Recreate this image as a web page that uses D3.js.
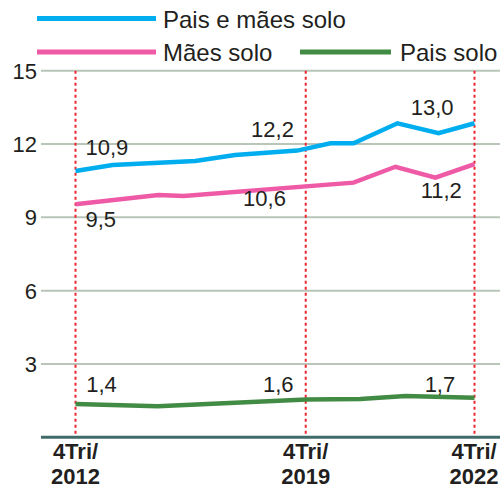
<!DOCTYPE html>
<html><head><meta charset="utf-8">
<script src="https://cdn.jsdelivr.net/npm/d3@7"></script>
<style>
html,body{margin:0;padding:0;background:#fff;}
svg{display:block;font-family:"Liberation Sans",Arial,sans-serif;}
</style></head>
<body><svg id="c" width="500" height="489"></svg>
<script>
// Data (x in period units along the drawn axis: 0 = 4Tri/2012, 10 = 4Tri/2022)
const seriesNames = ["Pais e mães solo", "Mães solo", "Pais solo"];
const seriesColors = ["#00aeef", "#ef5aa6", "#428b44"];
const paisMaesX = [0, 0.93, 3.0, 4.0, 5.56, 6.39, 6.97, 8.07, 9.1, 10];
const paisMaesY = [10.9, 11.14, 11.31, 11.55, 11.73, 12.03, 12.03, 12.85, 12.44, 12.85];
const maesX = [0, 2.08, 2.71, 6.97, 8.02, 9.02, 10];
const maesY = [9.54, 9.91, 9.87, 10.42, 11.07, 10.62, 11.18];
const paisX = [0, 2.06, 5.79, 7.14, 8.27, 10];
const paisY = [1.36, 1.27, 1.55, 1.57, 1.69, 1.62];
const periodLabels = [["4Tri/", "2012"], ["4Tri/", "2019"], ["4Tri/", "2022"]];
const periodX = [0, 5.77, 10];
const yTicks = [3, 6, 9, 12, 15];
// value labels: text, x-unit, value anchor
const labelTexts = ["10,9", "12,2", "13,0", "9,5", "10,6", "11,2", "1,4", "1,6", "1,7"];
const labelX = [0.25, 4.4, 8.4, 0.25, 4.2, 8.65, 0.27, 4.7, 8.75];
const labelV = [11.55, 12.3, 13.2, 8.6, 9.45, 9.8, 1.85, 1.85, 1.85];

const svg = d3.select("#c");
const x = d3.scaleLinear().domain([0, 10]).range([75.5, 474.5]);
const y = d3.scaleLinear().domain([0, 15]).range([437.3, 70.7]);
const textColor = "#231f20";

// gridlines
svg.append("g").selectAll("line").data(yTicks).join("line")
  .attr("x1", 41).attr("x2", 500)
  .attr("y1", d => y(d)).attr("y2", d => y(d))
  .attr("stroke", "#b9c5b9").attr("stroke-width", 2);

// y tick labels
svg.append("g").selectAll("text").data(yTicks).join("text")
  .attr("x", 37).attr("y", d => y(d) + 8)
  .attr("text-anchor", "end").attr("font-size", 22).attr("fill", textColor)
  .text(d => d);

// vertical red dotted markers
svg.append("g").selectAll("line").data(periodX).join("line")
  .attr("x1", d => x(d)).attr("x2", d => x(d))
  .attr("y1", y(15)).attr("y2", y(0))
  .attr("stroke", "#ee2530").attr("stroke-width", 2)
  .attr("stroke-dasharray", "3,3");

// axis baseline
svg.append("line").attr("x1", 41).attr("x2", 500)
  .attr("y1", y(0)).attr("y2", y(0))
  .attr("stroke", "#3f6b69").attr("stroke-width", 3);

// x labels
const xl = svg.append("g").selectAll("text").data(periodLabels).join("text")
  .attr("text-anchor", "middle").attr("font-size", 22).attr("font-weight", "bold")
  .attr("fill", textColor)
  .attr("transform", (d, i) => `translate(${Math.min(x(periodX[i]), 474)},0)`);
xl.append("tspan").attr("x", 0).attr("y", 459).text(d => d[0]);
xl.append("tspan").attr("x", 0).attr("y", 484).text(d => d[1]);

// lines
const line = d3.line().x(d => x(d[0])).y(d => y(d[1]));
const data = [
  d3.zip(paisMaesX, paisMaesY),
  d3.zip(maesX, maesY),
  d3.zip(paisX, paisY)
];
svg.append("g").selectAll("path").data(data).join("path")
  .attr("d", line).attr("fill", "none")
  .attr("stroke", (d, i) => seriesColors[i])
  .attr("stroke-width", 4.5).attr("stroke-linejoin", "miter");

// value labels
svg.append("g").selectAll("text").data(labelTexts).join("text")
  .attr("x", (d, i) => x(labelX[i])).attr("y", (d, i) => y(labelV[i]))
  .attr("font-size", 22).attr("fill", textColor)
  .text(d => d);

// legend
const legendPos = [[37, 156, 18.5, 163], [37, 156, 52, 163], [300, 391, 52, 400]];
const lg = svg.append("g").selectAll("g").data(seriesNames).join("g");
lg.append("line")
  .attr("x1", (d, i) => legendPos[i][0]).attr("x2", (d, i) => legendPos[i][1])
  .attr("y1", (d, i) => legendPos[i][2]).attr("y2", (d, i) => legendPos[i][2])
  .attr("stroke", (d, i) => seriesColors[i]).attr("stroke-width", 5);
lg.append("text")
  .attr("x", (d, i) => legendPos[i][3]).attr("y", (d, i) => legendPos[i][2] + 9)
  .attr("font-size", 24).attr("fill", textColor)
  .text(d => d);
</script></body></html>
